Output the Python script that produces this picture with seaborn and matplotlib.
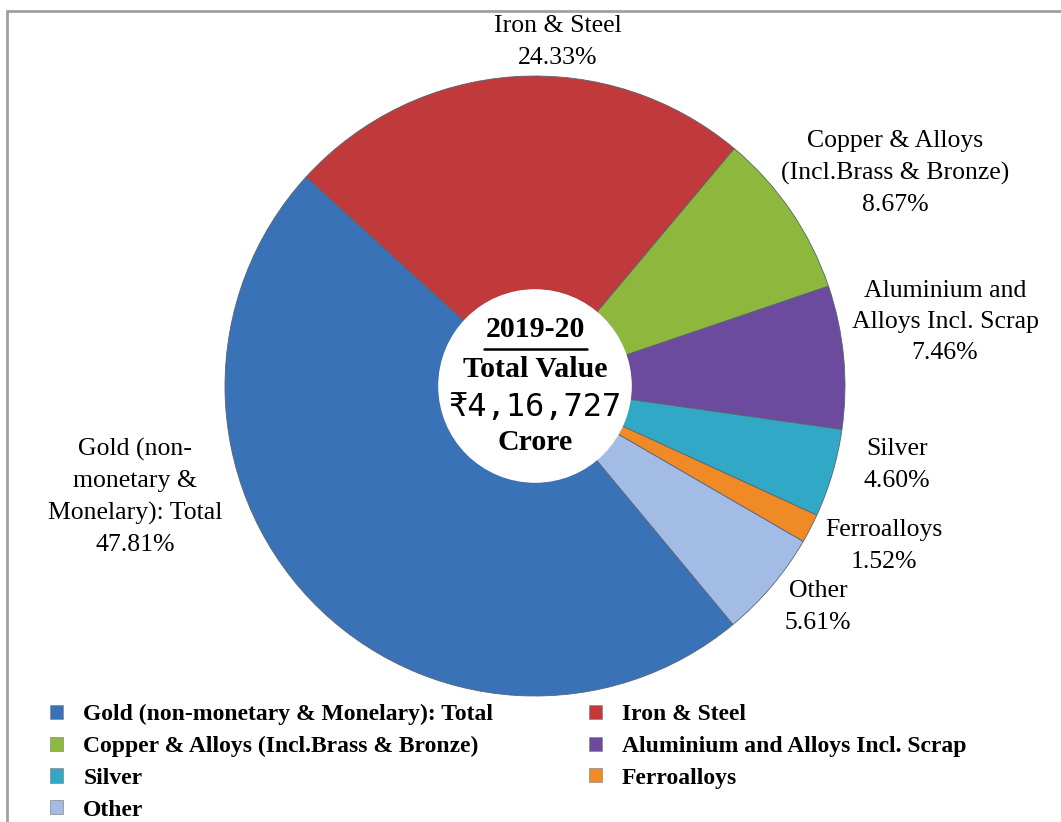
import matplotlib
matplotlib.use("Agg")
import matplotlib.pyplot as plt
import matplotlib.patches as mpatches
import seaborn as sns

# Werte aus dem Diagramm (Anteile in %)
categories = ['Gold (non-monetary & Monelary): Total', 'Iron & Steel',
              'Copper & Alloys (Incl.Brass & Bronze)', 'Aluminium and Alloys Incl. Scrap',
              'Silver', 'Ferroalloys', 'Other']
shares = [47.81, 24.33, 8.67, 7.46, 4.60, 1.52, 5.61]
slice_labels = ['Gold (non-\nmonetary &\nMonelary): Total', 'Iron & Steel',
                'Copper & Alloys\n(Incl.Brass & Bronze)', 'Aluminium and\nAlloys Incl. Scrap',
                'Silver', 'Ferroalloys', 'Other']
year = '2019-20'
total_value = '₹4,16,727'

colors = ['#3a72b8', '#c13a3b', '#8db83d', '#6c4b9e', '#30a8c6', '#f08a26', '#a3bce5']

sns.set_theme(style='white')
plt.rcParams['font.family'] = ['Liberation Serif', 'DejaVu Serif']
plt.rcParams['text.color'] = 'black'

W, H = 1061, 822
fig = plt.figure(figsize=(W / 100, H / 100), dpi=100)
ax = fig.add_axes([0, 0, 1, 1])

cx, cy, r = 535, H - 386, 310
wedges, _ = ax.pie(shares, colors=colors, startangle=309.7, counterclock=False,
                   center=(cx, cy), radius=r, frame=True,
                   wedgeprops=dict(width=r * 0.69, edgecolor='#5a6470', linewidth=0.6))
ax.set_xlim(0, W)
ax.set_ylim(0, H)
ax.set_aspect('equal')
ax.axis('off')

# weisser Kreis in der Mitte
ax.add_patch(mpatches.Circle((cx, cy), r * 0.31, color='white', zorder=5))

# Beschriftungen aussen
label_pos = [(135, 497), (558, 42), (895, 173), (945, 322), (897, 465), (884, 546), (818, 607)]
for lab, val, (x, y) in zip(slice_labels, shares, label_pos):
    ax.text(x, H - y, f'{lab}\n{val:.2f}%', ha='center', va='center',
            fontsize=18.5, linespacing=1.55, color='black')

# Text in der Mitte
ax.text(cx, H - 330, year, ha='center', va='center', fontsize=21.5, fontweight='bold', zorder=6)
ax.plot([484, 587], [H - 349, H - 349], color='black', lw=1.8, zorder=6)
ax.text(cx, H - 370, 'Total Value', ha='center', va='center', fontsize=21.5, fontweight='bold', zorder=6)
ax.text(cx, H - 408, total_value, ha='center', va='center', fontsize=23,
        family=['DejaVu Sans Mono', 'DejaVu Sans', 'Noto Sans'], zorder=6)
ax.text(cx, H - 443, 'Crore', ha='center', va='center', fontsize=21.5, fontweight='bold', zorder=6)

# Rahmen oben und links
ax.plot([7, W], [H - 11, H - 11], color='#a0a0a0', lw=2)
ax.plot([7, 7], [H - 11, 0], color='#a0a0a0', lw=2)

# Legende, zeilenweise wie im Original
handles = [mpatches.Patch(facecolor=c, edgecolor='#888888', linewidth=0.5) for c in colors]
order = [0, 2, 4, 6, 1, 3, 5]
fig.legend([handles[i] for i in order], [categories[i] for i in order],
           loc='upper left', bbox_to_anchor=(29 / W, 1 - 683 / H), ncol=2,
           frameon=False, handlelength=0.55, handleheight=0.55, handletextpad=0.85,
           columnspacing=4.05, labelspacing=0.45,
           prop=dict(family='Liberation Serif', weight='bold', size=17))

fig.savefig('out.png', dpi=100)
